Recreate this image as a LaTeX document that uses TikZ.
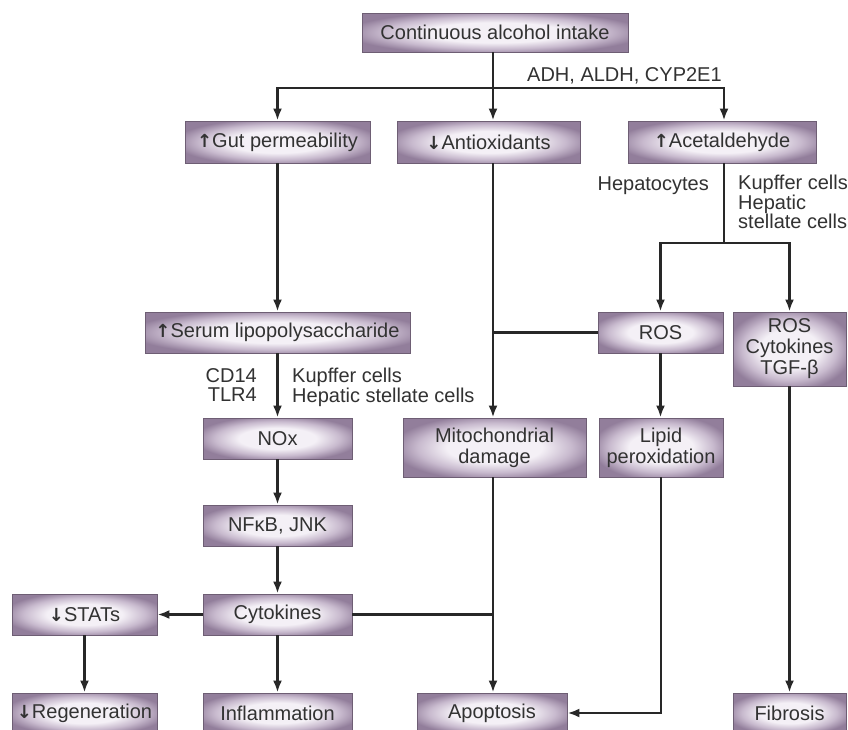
\documentclass[tikz,border=0pt]{standalone}
\usepackage{fontspec}
\setmainfont{Liberation Sans}
\newfontfamily\arrowfont{DejaVu Sans}
\usetikzlibrary{arrows.meta,calc}

\definecolor{boxlight}{RGB}{244,240,246}
\definecolor{boxmid}{RGB}{200,186,206}
\definecolor{boxdark}{RGB}{146,126,155}
\definecolor{boxedge}{RGB}{110,94,116}
\definecolor{ink}{RGB}{50,50,50}
\definecolor{linegray}{RGB}{40,40,40}

% soft elliptical glow in the middle of every box
\pgfdeclareradialshading{glow}{\pgfpoint{0bp}{0bp}}{%
  color(0bp)=(boxlight); color(13bp)=(boxlight); color(21bp)=(boxmid);
  color(28bp)=(boxdark); color(50bp)=(boxdark)}

\newcommand{\up}{{\arrowfont\bfseries\fontsize{18}{18}\selectfont ↑}}
\newcommand{\dn}{{\arrowfont\bfseries\fontsize{18}{18}\selectfont ↓}}

\tikzset{
  box/.style={shade, shading=glow, draw=boxedge, line width=0.9pt,
    inner sep=2pt, align=center, text=ink,
    font=\fontsize{20}{21}\selectfont},
  lbl/.style={inner sep=0pt, text=ink, font=\fontsize{20}{19.5}\selectfont},
  link/.style={line width=2.5pt, draw=linegray},
  flow/.style={link, -{Latex[length=12pt,width=9pt]}},
}

\begin{document}
\begin{tikzpicture}[x=1pt,y=-1pt]
\fill[white] (0,0) rectangle (848,729);
\useasboundingbox (0,0) rectangle (848,729);

% ---- boxes ----
\node[box, minimum width=266pt, minimum height=39pt] (alc)    at (495,32.5)  {Continuous alcohol intake};
\node[box, minimum width=185pt, minimum height=42pt] (gut)    at (277.5,142) {\up Gut permeability};
\node[box, minimum width=183pt, minimum height=42pt] (antiox) at (488.5,142) {\dn Antioxidants};
\node[box, minimum width=188pt, minimum height=42pt] (acet)   at (722,142)   {\up Acetaldehyde};

\node[box, minimum width=265pt, minimum height=41pt] (lps)    at (277.5,332.5) {\up Serum lipopolysaccharide};
\node[box, minimum width=125pt, minimum height=41pt] (ros)    at (660.5,332.5) {ROS};
\node[box, minimum width=113pt, minimum height=74pt] (ros2)   at (789.5,349)   {ROS\\Cytokines\\TGF-β};

\node[box, minimum width=149pt, minimum height=41pt] (nox)    at (277.5,438.5) {NOx};
\node[box, minimum width=183pt, minimum height=59pt] (mito)   at (494.5,447.5) {Mitochondrial\\damage};
\node[box, minimum width=124pt, minimum height=59pt] (lipid)  at (661,447.5)   {Lipid\\peroxidation};

\node[box, minimum width=149pt, minimum height=41pt] (nfkb)   at (277.5,525.5) {NFκB, JNK};
\node[box, minimum width=149pt, minimum height=41pt] (cyto)   at (277.5,614.5) {Cytokines};
\node[box, minimum width=145pt, minimum height=41pt] (stats)  at (84.5,614.5)  {\dn STATs};

\node[box, minimum width=145pt, minimum height=40pt] (regen)  at (84.5,713)  {\dn Regeneration};
\node[box, minimum width=149pt, minimum height=40pt] (inflam) at (277.5,713) {Inflammation};
\node[box, minimum width=150pt, minimum height=40pt] (apop)   at (492,713)   {Apoptosis};
\node[box, minimum width=113pt, minimum height=40pt] (fib)    at (789.5,713) {Fibrosis};

% ---- side labels ----
\node[lbl, anchor=base west] (enz) at (527,81) {ADH, ALDH, CYP2E1};
\node[lbl, anchor=base east] (hep) at (709,190) {Hepatocytes};
\node[lbl, anchor=north west, align=left] (kup) at (738,175) {Kupffer cells\\Hepatic\\stellate cells};
\node[lbl, anchor=north east, align=right] (cd) at (257,368) {CD14\\TLR4};
\node[lbl, anchor=north west, align=left] (kup2) at (292,368) {Kupffer cells\\Hepatic stellate cells};

% ---- guide columns and rows ----
\coordinate (xB) at (493,0);
\coordinate (xC) at (724,0);
\coordinate (yT) at (0,88);
\coordinate (yR) at (0,243);

% ---- connectors ----
\draw[flow] (alc.south -| xB) -- (antiox.north -| xB);
\draw[flow] (yT -| xB) -| (gut.north);
\draw[flow] (yT -| xB) -| (acet.north -| xC);

\draw[link] (acet.south -| xC) -- (yR -| xC);
\draw[flow] (yR -| xC) -| (ros.north);
\draw[flow] (yR -| xC) -| (ros2.north);

\draw[flow] (antiox.south -| xB) -- (mito.north -| xB);
\draw[link] (ros.west) -- (ros.west -| xB);

\draw[flow] (gut.south) -- (lps.north);
\draw[flow] (lps.south) -- (nox.north);
\draw[flow] (nox.south) -- (nfkb.north);
\draw[flow] (nfkb.south) -- (cyto.north);
\draw[flow] (cyto.west) -- (stats.east);
\draw[flow] (stats.south) -- (regen.north);
\draw[flow] (cyto.south) -- (inflam.north);

\draw[link] (cyto.east) -- (cyto.east -| xB);
\draw[flow] (mito.south -| xB) -- (apop.north -| xB);

\draw[flow] (ros.south) -- (ros.south |- lipid.north);
\draw[flow] (lipid.south) |- (apop.east);
\draw[flow] (ros2.south) -- (fib.north);
\end{tikzpicture}
\end{document}
